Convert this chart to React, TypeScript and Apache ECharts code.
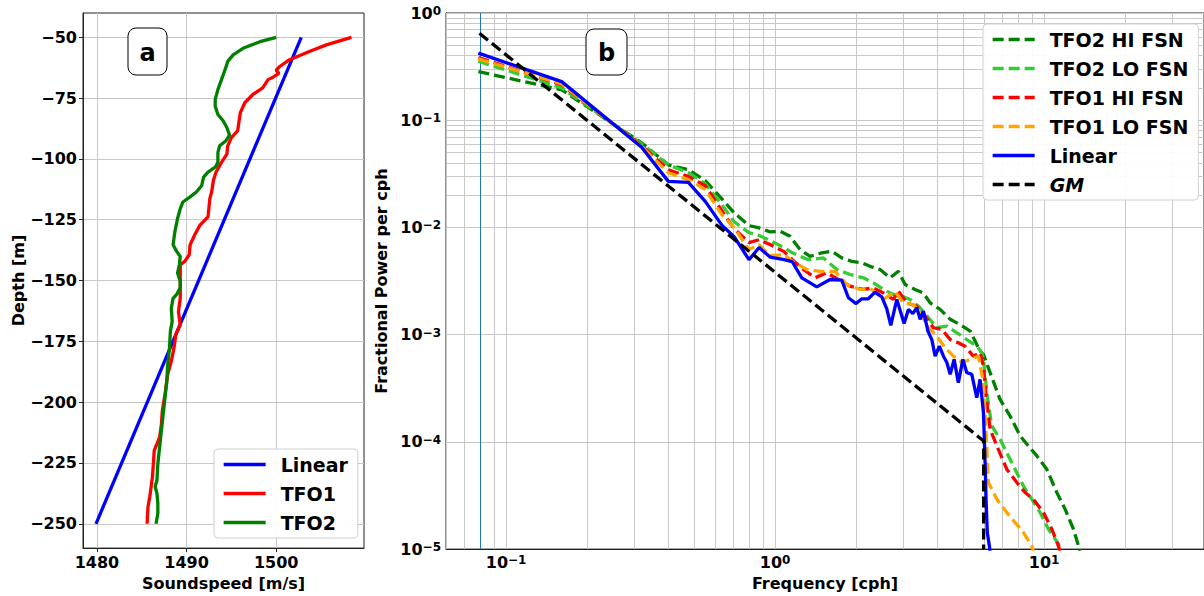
import React, { useEffect, useRef } from "react";
import * as echarts from "echarts";

const FONT = "DejaVu Sans";

// ---------- Panel a: sound-speed profiles [soundspeed m/s, depth m] ----------
const linearProfile = [
  [1502.8, -50],
  [1479.9, -250],
];
const tfo1Profile = [
  [1508.4, -50], [1505.6, -53.1], [1503.7, -55.8], [1501.5, -59.2], [1500.4, -62],
  [1500.0, -63.5], [1500.3, -64.8], [1499.7, -66.3], [1499.1, -67.4], [1498.5, -70.8],
  [1497.4, -73.5], [1496.5, -76.9], [1496.0, -81], [1495.7, -88.5], [1495.0, -91.2],
  [1494.6, -94.6], [1494.5, -98], [1493.9, -101.4], [1493.3, -105.4], [1493.0, -108.8],
  [1492.8, -113.6], [1492.6, -116.3], [1492.4, -123.8], [1491.5, -127.2], [1490.9, -131.3],
  [1490.4, -135.3], [1490.3, -139.4], [1489.8, -142.1], [1489.3, -143.5], [1489.3, -147.6],
  [1489.3, -154.3], [1489.3, -157.3], [1489.1, -162.8], [1489.3, -168.2], [1488.8, -172.3],
  [1488.6, -177.7], [1488.3, -183.2], [1487.9, -188.6], [1487.6, -196.7], [1487.3, -203.5],
  [1487.2, -209], [1487.0, -214.4], [1486.7, -217.1], [1486.4, -219.8], [1486.3, -225.3],
  [1486.2, -230.7], [1486.1, -233.4], [1485.9, -238.9], [1485.7, -243], [1485.6, -250],
];
const tfo2Profile = [
  [1500.0, -50], [1498.2, -51.8], [1496.3, -54.5], [1495.2, -57.2], [1494.6, -59.9],
  [1494.3, -63.3], [1493.9, -67.4], [1493.5, -71.5], [1493.2, -75.5], [1493.2, -78.3],
  [1493.5, -81.7], [1494.1, -84.4], [1494.5, -87.1], [1494.8, -90.2], [1494.4, -92.5],
  [1493.7, -94.6], [1493.5, -97.3], [1493.5, -101.4], [1493.2, -103.4], [1492.4, -105.4],
  [1491.9, -107.5], [1491.7, -110.9], [1491.1, -113.6], [1490.4, -115.6], [1489.6, -117.7],
  [1489.3, -120.4], [1489.0, -124.5], [1488.7, -129.9], [1488.5, -135.3], [1488.9, -138.0],
  [1489.3, -140.1], [1489.2, -143.5], [1489.0, -146.9], [1489.3, -150.3], [1489.3, -153],
  [1488.9, -155.7], [1488.5, -157.3], [1488.3, -161.4], [1488.4, -166.8], [1488.2, -170.9],
  [1488.1, -177.7], [1487.9, -184.5], [1487.8, -191.3], [1487.6, -198.1], [1487.4, -204.9],
  [1487.2, -211.7], [1487.0, -218.5], [1486.8, -225.3], [1486.7, -232.1], [1486.5, -234.8],
  [1486.7, -237.5], [1486.8, -241.6], [1486.8, -245.7], [1486.6, -250],
];
const depthTicks = [-250, -225, -200, -175, -150, -125, -100, -75, -50];
const speedTicks = [1480, 1490, 1500];

// ---------- Panel b: spectra [frequency cph, fractional power per cph] ----------
const tfo2HiSpec = [
  [0.0789, 0.284], [0.161, 0.192], [0.319, 0.0616], [0.401, 0.0384], [0.476, 0.0345],
  [0.55, 0.0273], [0.634, 0.0185], [0.704, 0.0137], [0.8, 0.0104], [0.872, 0.0099],
  [0.958, 0.0091], [1.044, 0.0092], [1.137, 0.00826], [1.239, 0.00621], [1.349, 0.00538],
  [1.492, 0.0058], [1.625, 0.006], [1.77, 0.0052], [1.928, 0.00483], [2.1, 0.00467],
  [2.255, 0.00434], [2.457, 0.00405], [2.676, 0.00339], [2.873, 0.0039], [3.043, 0.00293],
  [3.314, 0.00264], [3.56, 0.00245], [3.77, 0.00198], [4.107, 0.00172], [4.475, 0.00139],
  [4.873, 0.00124], [5.31, 0.00108], [5.78, 0.000702], [5.95, 0.000655], [6.3, 0.000442],
  [6.86, 0.000249], [7.475, 0.000174], [8.145, 0.000114], [8.74, 9.16e-5], [9.4, 7.4e-5],
  [10.23, 5.56e-5], [11.15, 3.37e-5], [11.97, 2.36e-5], [12.85, 1.54e-5], [13.6, 9.6e-6],
];
const tfo2LoSpec = [
  [0.0789, 0.355], [0.161, 0.2], [0.319, 0.0603], [0.401, 0.0384], [0.476, 0.0324],
  [0.55, 0.0256], [0.634, 0.0163], [0.704, 0.0113], [0.8, 0.00895], [0.872, 0.0084],
  [0.958, 0.00754], [1.08, 0.00649], [1.16, 0.0058], [1.33, 0.005], [1.512, 0.0052],
  [1.696, 0.00405], [1.9, 0.00364], [2.13, 0.00339], [2.32, 0.00304], [2.527, 0.00264],
  [2.754, 0.00237], [2.958, 0.00229], [3.176, 0.00213], [3.46, 0.00178], [3.715, 0.00144],
  [3.99, 0.00116], [4.35, 0.0012], [4.74, 0.00104], [5.16, 0.0009], [5.62, 0.00078],
  [5.87, 0.00068], [5.95, 0.000588], [6.15, 0.000267], [6.39, 0.000141], [6.86, 0.000106],
  [7.37, 7.4e-5], [7.8, 5.56e-5], [8.375, 3.88e-5], [9.0, 2.92e-5], [9.66, 2.2e-5],
  [10.37, 1.54e-5], [11.3, 1.12e-5], [11.47, 9.6e-6],
];
const tfo1HiSpec = [
  [0.0789, 0.385], [0.161, 0.214], [0.319, 0.0578], [0.401, 0.0345], [0.476, 0.0299],
  [0.55, 0.0245], [0.634, 0.0143], [0.704, 0.00975], [0.8, 0.00722], [0.872, 0.00769],
  [0.958, 0.00692], [1.08, 0.00595], [1.16, 0.005], [1.274, 0.00405], [1.408, 0.00339],
  [1.556, 0.00377], [1.719, 0.00327], [1.9, 0.00283], [2.13, 0.00264], [2.32, 0.00273],
  [2.527, 0.00245], [2.754, 0.00213], [2.873, 0.00254], [3.088, 0.00198], [3.365, 0.00184],
  [3.61, 0.00149], [3.878, 0.00116], [4.17, 0.00112], [4.475, 0.0009], [4.8, 0.00084],
  [5.085, 0.00078], [5.46, 0.00063], [5.78, 0.00068], [5.95, 0.00051], [6.09, 0.000267],
  [6.3, 0.000131], [6.76, 8.5e-5], [7.265, 5.56e-5], [7.92, 4.18e-5], [8.5, 3.37e-5],
  [9.125, 2.92e-5], [9.94, 2.2e-5], [10.68, 1.54e-5], [11.3, 1.07e-5], [11.47, 9.6e-6],
];
const tfo1LoSpec = [
  [0.0789, 0.373], [0.161, 0.218], [0.319, 0.0567], [0.401, 0.0324], [0.476, 0.0279],
  [0.55, 0.0225], [0.634, 0.0132], [0.704, 0.00995], [0.8, 0.00621], [0.872, 0.00692],
  [0.958, 0.00546], [1.08, 0.00558], [1.16, 0.00483], [1.312, 0.00405], [1.47, 0.0039],
  [1.671, 0.0039], [1.847, 0.00293], [2.07, 0.00264], [2.288, 0.00264], [2.527, 0.00213],
  [2.793, 0.00252], [3.0, 0.00198], [3.267, 0.00191], [3.46, 0.0016], [3.715, 0.00116],
  [3.99, 0.00097], [4.285, 0.000755], [4.6, 0.00063], [4.945, 0.00055], [5.31, 0.000588],
  [5.7, 0.00063], [5.95, 0.000357], [6.12, 9.16e-5], [6.21, 4.18e-5], [6.675, 2.92e-5],
  [7.265, 2.2e-5], [7.8, 1.77e-5], [8.375, 1.43e-5], [9.0, 1.07e-5], [9.125, 9.6e-6],
];
const linearSpec = [
  [0.0789, 0.422], [0.161, 0.229], [0.319, 0.056], [0.401, 0.0269], [0.476, 0.0263],
  [0.55, 0.0175], [0.634, 0.0105], [0.704, 0.0082], [0.8, 0.005], [0.872, 0.00649],
  [0.958, 0.00529], [1.08, 0.005], [1.157, 0.00481], [1.257, 0.00339], [1.429, 0.00279],
  [1.601, 0.00327], [1.77, 0.00322], [1.873, 0.00221], [2.0, 0.00195], [2.1, 0.00216],
  [2.22, 0.00216], [2.353, 0.00249], [2.493, 0.00225], [2.602, 0.00174], [2.692, 0.00122],
  [2.835, 0.00213], [3.017, 0.00127], [3.13, 0.00172], [3.25, 0.00157], [3.365, 0.00178],
  [3.46, 0.00139], [3.56, 0.00166], [3.7, 0.00108], [3.825, 0.0009], [3.935, 0.00063],
  [4.08, 0.00078], [4.225, 0.00063], [4.35, 0.00055], [4.475, 0.000427], [4.63, 0.000588],
  [4.8, 0.000357], [4.99, 0.000588], [5.16, 0.000442], [5.385, 0.000427], [5.62, 0.000258],
  [5.78, 0.000383], [5.95, 0.000188], [6.035, 6.4e-5], [6.09, 2.72e-5], [6.15, 1.43e-5],
  [6.3, 9.6e-6],
];
const gmSpec = [
  [0.0796, 0.647],
  [5.96, 1.02e-4],
  [5.96, 1e-5],
];
const refFrequency = 0.0835;

const freqMinorGrid = [
  0.06, 0.07, 0.08, 0.09, 0.2, 0.3, 0.4, 0.5, 0.6, 0.7, 0.8, 0.9,
  2, 3, 4, 5, 6, 7, 8, 9, 20, 30,
];
const powerMinorGrid = [
  2e-5, 3e-5, 4e-5, 5e-5, 6e-5, 7e-5, 8e-5, 9e-5,
  2e-4, 3e-4, 4e-4, 5e-4, 6e-4, 7e-4, 8e-4, 9e-4,
  2e-3, 3e-3, 4e-3, 5e-3, 6e-3, 7e-3, 8e-3, 9e-3,
  2e-2, 3e-2, 4e-2, 5e-2, 6e-2, 7e-2, 8e-2, 9e-2,
  0.2, 0.3, 0.4, 0.5, 0.6, 0.7, 0.8, 0.9,
];

const GRID_COLOR = "#c8c8c8";
const AXIS_COLOR = "#222";
const LW = 3.3;

const tickFont = { fontFamily: FONT, fontWeight: "bold" as const, fontSize: 16, color: "#000" };
const nameFont = { fontFamily: FONT, fontWeight: "bold" as const, fontSize: 16, color: "#000" };

function powLabel(v: number): string {
  const l = Math.log10(v);
  const e = Math.round(l);
  if (Math.abs(l - e) > 1e-6) return "";
  const s = (e < 0 ? "\u2212" : "") + Math.abs(e);
  return `{b|10}{s|${s}}`;
}

const powRich = {
  b: { fontFamily: FONT, fontWeight: "bold", fontSize: 16, color: "#000" },
  s: { fontFamily: FONT, fontWeight: "bold", fontSize: 12, color: "#000", verticalAlign: "top" },
};

function lineSeries(name: string, data: number[][], color: string, dashed: boolean, xi: number) {
  return {
    type: "line",
    name,
    xAxisIndex: xi,
    yAxisIndex: xi,
    data,
    symbol: "none",
    showSymbol: false,
    clip: true,
    z: 3,
    lineStyle: { color, width: LW, type: dashed ? [11, 5] : "solid" },
    itemStyle: { color },
    emphasis: { disabled: true },
  };
}

function labelBox(x: number, y: number, w: number, h: number, text: string) {
  return {
    type: "group",
    x,
    y,
    z: 100,
    children: [
      { type: "rect", z: 100, shape: { x: 0, y: 0, width: w, height: h, r: 8 }, style: { fill: "#fff", stroke: "#000", lineWidth: 1 } },
      { type: "text", z: 101, x: w / 2, y: h / 2 + 1, style: { text, fontFamily: FONT, fontWeight: "bold", fontSize: 24, fill: "#000", align: "center", verticalAlign: "middle" } },
    ],
  };
}

export default function App() {
  const ref = useRef<HTMLDivElement>(null);

  useEffect(() => {
    if (!ref.current) return;
    const chart = echarts.init(ref.current, undefined, { renderer: "svg" });

    const legendCommon = {
      orient: "vertical",
      z: 20,
      backgroundColor: "rgba(255,255,255,0.92)",
      borderColor: "#d0d0d0",
      borderWidth: 1,
      borderRadius: 4,
      itemWidth: 42,
      itemHeight: 19,
      itemGap: 10,
      padding: [6, 10, 6, 8],
      itemStyle: { opacity: 0 },
      lineStyle: { width: LW },
      textStyle: {
        fontFamily: FONT,
        fontWeight: "bold",
        fontSize: 19,
        color: "#000",
        padding: [0, 0, 0, 10],
        rich: {
          i: { fontFamily: FONT, fontWeight: "bold", fontStyle: "italic", fontSize: 19, color: "#000" },
        },
      },
      selectedMode: false,
    };

    const option: any = {
      animation: false,
      textStyle: { fontFamily: FONT },
      grid: [
        { left: 83, top: 13, width: 281, height: 536, show: true, borderColor: AXIS_COLOR, borderWidth: 1, backgroundColor: "transparent" },
        { left: 446, top: 13, width: 758, height: 537, show: true, borderColor: AXIS_COLOR, borderWidth: 1, backgroundColor: "transparent" },
      ],
      xAxis: [
        {
          type: "value",
          gridIndex: 0,
          min: 1478.45,
          max: 1509.8,
          name: "Soundspeed [m/s]",
          nameLocation: "middle",
          nameGap: 26,
          nameTextStyle: nameFont,
          axisLine: { show: true, onZero: false, lineStyle: { color: AXIS_COLOR } },
          axisTick: { show: true, length: 4, customValues: speedTicks, lineStyle: { color: AXIS_COLOR } },
          axisLabel: { ...tickFont, margin: 6, customValues: speedTicks, formatter: (v: number) => String(v) },
          splitLine: { show: true, lineStyle: { color: GRID_COLOR, width: 1 } },
        },
        {
          type: "log",
          logBase: 10,
          gridIndex: 1,
          min: 0.0598,
          max: 39.3,
          name: "Frequency [cph]",
          nameLocation: "middle",
          nameGap: 25,
          nameTextStyle: nameFont,
          axisLine: { show: true, onZero: false, lineStyle: { color: AXIS_COLOR } },
          axisTick: { show: false },
          axisLabel: { margin: 5, formatter: powLabel, rich: powRich, showMinLabel: false, showMaxLabel: false },
          splitLine: { show: true, lineStyle: { color: GRID_COLOR, width: 1 } },
        },
      ],
      yAxis: [
        {
          type: "value",
          gridIndex: 0,
          min: -260,
          max: -40,
          name: "Depth [m]",
          nameLocation: "middle",
          nameGap: 57,
          nameTextStyle: nameFont,
          axisLine: { show: true, onZero: false, lineStyle: { color: AXIS_COLOR } },
          axisTick: { show: true, length: 4, customValues: depthTicks, lineStyle: { color: AXIS_COLOR } },
          axisLabel: {
            ...tickFont,
            margin: 6,
            customValues: depthTicks,
            formatter: (v: number) => String(v).replace("-", "\u2212"),
          },
          splitLine: { show: true, lineStyle: { color: GRID_COLOR, width: 1 } },
        },
        {
          type: "log",
          logBase: 10,
          gridIndex: 1,
          min: 1e-5,
          max: 1,
          name: "Fractional Power per cph",
          nameLocation: "middle",
          nameGap: 52,
          nameTextStyle: nameFont,
          axisLine: { show: true, onZero: false, lineStyle: { color: AXIS_COLOR } },
          axisTick: { show: false },
          axisLabel: { margin: 5, formatter: powLabel, rich: powRich },
          splitLine: { show: true, lineStyle: { color: GRID_COLOR, width: 1 } },
        },
      ],
      legend: [
        {
          ...legendCommon,
          left: 214,
          top: 449,
          data: ["Linear", "TFO1", "TFO2"],
        },
        {
          ...legendCommon,
          left: 983,
          top: 24,
          data: ["TFO2 HI FSN", "TFO2 LO FSN", "TFO1 HI FSN", "TFO1 LO FSN", "Linear", "GM"],
          formatter: (name: string) => (name === "GM" ? "{i|GM}" : name),
        },
      ],
      series: [
        // minor grid + reference frequency line for panel b
        {
          type: "line",
          name: "_grid",
          xAxisIndex: 1,
          yAxisIndex: 1,
          data: [],
          symbol: "none",
          silent: true,
          z: 1,
          markLine: {
            silent: true,
            z: 1,
            symbol: "none",
            label: { show: false },
            animation: false,
            lineStyle: { color: GRID_COLOR, width: 1, type: "solid" },
            data: [
              ...freqMinorGrid.map((v) => ({ xAxis: v })),
              ...powerMinorGrid.map((v) => ({ yAxis: v })),
              { xAxis: refFrequency, lineStyle: { color: "#1f77b4", width: 1, type: "solid" } },
            ],
          },
        },
        lineSeries("Linear", linearProfile, "#0000ff", false, 0),
        lineSeries("TFO1", tfo1Profile, "#ff0000", false, 0),
        lineSeries("TFO2", tfo2Profile, "#008000", false, 0),
        lineSeries("TFO2 HI FSN", tfo2HiSpec, "#008000", true, 1),
        lineSeries("TFO2 LO FSN", tfo2LoSpec, "#32cd32", true, 1),
        lineSeries("TFO1 HI FSN", tfo1HiSpec, "#ff0000", true, 1),
        lineSeries("TFO1 LO FSN", tfo1LoSpec, "#ffa500", true, 1),
        lineSeries("Linear", linearSpec, "#0000ff", false, 1),
        lineSeries("GM", gmSpec, "#000000", true, 1),
      ],
      graphic: [labelBox(128, 28, 39, 47, "a"), labelBox(586, 29, 41, 46, "b")],
    };

    chart.setOption(option);
    return () => chart.dispose();
  }, []);

  return (
    <div
      ref={ref}
      style={{ position: "fixed", left: 0, top: 0, width: 1204, height: 596, background: "#fff" }}
    />
  );
}
